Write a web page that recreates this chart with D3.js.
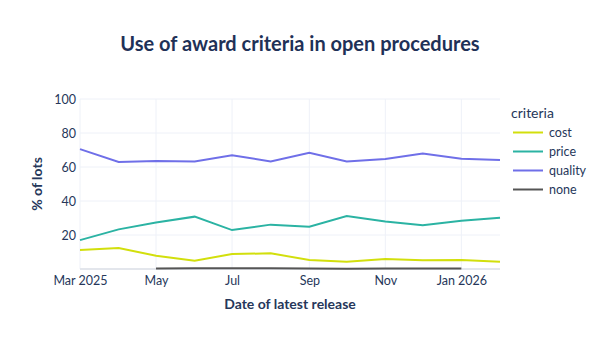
<!DOCTYPE html>
<html>
<head>
	<meta charset="utf-8">
	<title>Award criteria</title>
	<script src="https://cdn.jsdelivr.net/npm/d3@7"></script>
	<style>
		body { margin: 0; background: #fff; font-family: Lato, "Open Sans", sans-serif; }
		text { fill: #26375a; }
	</style>
</head>
<body>
	<div id="chart"></div>
	<script>
		// data
		const months = ["2025-03-01", "2025-04-01", "2025-05-01", "2025-06-01", "2025-07-01", "2025-08-01",
			"2025-09-01", "2025-10-01", "2025-11-01", "2025-12-01", "2026-01-01", "2026-02-01"];
		const cost    = [11.2, 12.4, 7.8, 4.9, 8.8, 9.2, 5.3, 4.3, 5.9, 5.1, 5.3, 4.3];
		const price   = [17.0, 23.3, 27.3, 30.8, 22.9, 26.1, 24.9, 31.2, 28.0, 25.7, 28.4, 30.2];
		const quality = [70.5, 63.0, 63.5, 63.3, 66.9, 63.3, 68.4, 63.3, 64.7, 68.0, 64.9, 64.1];
		const none    = [null, null, 0.3, 0.5, 0.4, 0.5, 0.3, 0.2, 0.3, 0.3, 0.3, null];
		const seriesNames = ["cost", "price", "quality", "none"];
		const colors = ["#d2df0c", "#2bb3a3", "#6f6fe8", "#555555"];
		const yTicks = [20, 40, 60, 80, 100];
		const xTicks = ["2025-03-01", "2025-05-01", "2025-07-01", "2025-09-01", "2025-11-01", "2026-01-01"];

		const width = 600, height = 350;
		const margin = { top: 99, right: 100, bottom: 81, left: 80 };

		const parse = d3.utcParse("%Y-%m-%d");
		const dates = months.map(parse);
		const seriesValues = [cost, price, quality, none];

		const x = d3.scaleUtc()
			.domain(d3.extent(dates))
			.range([margin.left, width - margin.right]);
		const y = d3.scaleLinear()
			.domain([0, 100])
			.range([height - margin.bottom, margin.top]);

		const svg = d3.select("#chart").append("svg")
			.attr("width", width)
			.attr("height", height)
			.attr("viewBox", [0, 0, width, height]);

		// grid
		svg.append("g")
			.selectAll("line.h")
			.data(yTicks)
			.join("line")
			.attr("x1", margin.left).attr("x2", width - margin.right)
			.attr("y1", d => y(d)).attr("y2", d => y(d))
			.attr("stroke", "#eef1f8");
		svg.append("g")
			.selectAll("line.v")
			.data(xTicks.map(parse))
			.join("line")
			.attr("x1", d => x(d)).attr("x2", d => x(d))
			.attr("y1", margin.top).attr("y2", height - margin.bottom)
			.attr("stroke", "#eef1f8");
		svg.append("line")
			.attr("x1", margin.left).attr("x2", width - margin.right)
			.attr("y1", y(0)).attr("y2", y(0))
			.attr("stroke", "#e3e6ec").attr("stroke-width", 2);

		// y axis
		svg.append("g")
			.attr("transform", `translate(${margin.left},0)`)
			.call(d3.axisLeft(y).tickValues(yTicks).tickSize(0).tickPadding(4))
			.call(g => g.select(".domain").remove())
			.call(g => g.selectAll("text").style("font-size", "12.5px").style("font-family", "Lato, sans-serif"));

		// x axis
		const fmt = d => d.getUTCMonth() === 0 || +d === +dates[0] ? d3.utcFormat("%b %Y")(d) : d3.utcFormat("%b")(d);
		svg.append("g")
			.attr("transform", `translate(0,${height - margin.bottom})`)
			.call(d3.axisBottom(x).tickValues(xTicks.map(parse)).tickFormat(fmt).tickSize(0).tickPadding(7))
			.call(g => g.select(".domain").remove())
			.call(g => g.selectAll("text").style("font-size", "12.5px").style("font-family", "Lato, sans-serif"));

		// lines
		const line = d3.line()
			.defined(d => d[1] != null)
			.x(d => x(d[0]))
			.y(d => y(d[1]));
		seriesValues.forEach((vals, i) => {
			svg.append("path")
				.attr("fill", "none")
				.attr("stroke", colors[i])
				.attr("stroke-width", 2)
				.attr("d", line(dates.map((d, j) => [d, vals[j]])));
		});

		// titles
		svg.append("text")
			.attr("x", 300).attr("y", 51)
			.attr("text-anchor", "middle")
			.style("font-size", "20px").style("font-weight", "bold")
			.style("fill", "#1f3157")
			.text("Use of award criteria in open procedures");
		svg.append("text")
			.attr("x", (margin.left + width - margin.right) / 2).attr("y", 309)
			.attr("text-anchor", "middle")
			.style("font-size", "14px").style("font-weight", "bold")
			.text("Date of latest release");
		svg.append("text")
			.attr("transform", `translate(42,${(margin.top + height - margin.bottom) / 2}) rotate(-90)`)
			.attr("text-anchor", "middle")
			.style("font-size", "14px").style("font-weight", "bold")
			.text("% of lots");

		// legend
		const legend = svg.append("g").attr("transform", "translate(511,0)");
		legend.append("text")
			.attr("x", 0).attr("y", 118)
			.style("font-size", "14px")
			.text("criteria");
		const item = legend.selectAll("g.item")
			.data(seriesNames)
			.join("g")
			.attr("transform", (d, i) => `translate(0,${132.5 + i * 19})`);
		item.append("line")
			.attr("x1", 2).attr("x2", 32)
			.attr("stroke", (d, i) => colors[i])
			.attr("stroke-width", 2);
		item.append("text")
			.attr("x", 38).attr("y", 4.5)
			.style("font-size", "12.5px")
			.text(d => d);
	</script>
</body>
</html>
